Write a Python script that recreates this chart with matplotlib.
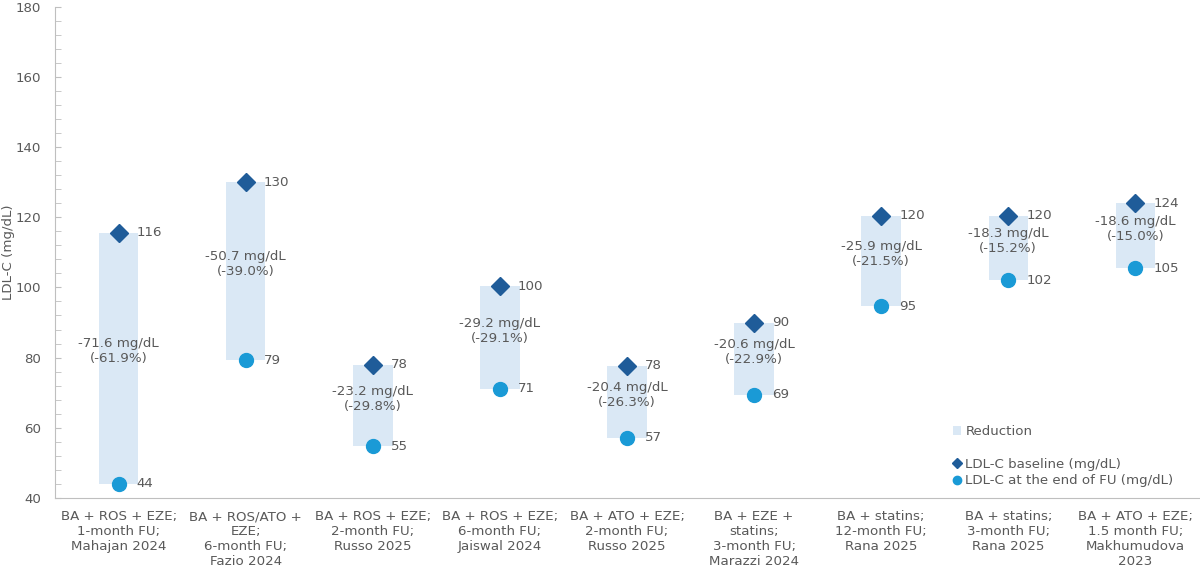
import matplotlib.pyplot as plt
from matplotlib.patches import Patch
from matplotlib.lines import Line2D
from matplotlib.ticker import MultipleLocator

#
# Les données du graphe : une étude par catégorie.
#
etudes = [
    "BA + ROS + EZE;\n1-month FU;\nMahajan 2024",
    "BA + ROS/ATO +\nEZE;\n6-month FU;\nFazio 2024",
    "BA + ROS + EZE;\n2-month FU;\nRusso 2025",
    "BA + ROS + EZE;\n6-month FU;\nJaiswal 2024",
    "BA + ATO + EZE;\n2-month FU;\nRusso 2025",
    "BA + EZE +\nstatins;\n3-month FU;\nMarazzi 2024",
    "BA + statins;\n12-month FU;\nRana 2025",
    "BA + statins;\n3-month FU;\nRana 2025",
    "BA + ATO + EZE;\n1.5 month FU;\nMakhumudova\n2023",
]
baseline = [115.6, 130.0, 77.9, 100.3, 77.6, 90.0, 120.4, 120.4, 124.0]
fin_fu = [44.0, 79.3, 54.7, 71.1, 57.2, 69.4, 94.6, 102.1, 105.4]
reduction = [71.6, 50.7, 23.2, 29.2, 20.4, 20.6, 25.9, 18.3, 18.6]
reduction_pct = [61.9, 39.0, 29.8, 29.1, 26.3, 22.9, 21.5, 15.2, 15.0]

#
# Les couleurs utilisées.
#
GRIS = "#595959"
AXE = "#bfbfbf"
BARRE = "#dae8f5"
LOSANGE = "#1f5c99"
CERCLE = "#1a9ad6"

plt.rcParams["font.family"] = "DejaVu Sans"
plt.rcParams["font.size"] = 9.6

fig = plt.figure(figsize=(12, 5.69), dpi=100)
ax = fig.add_axes([0.046, 0.125, 0.953, 0.863])

x = list(range(len(etudes)))
hauteurs = [b - f for b, f in zip(baseline, fin_fu)]

# Les barres de réduction
ax.bar(x, hauteurs, bottom=fin_fu, width=0.31, color=BARRE, zorder=1)

# Les points de départ et de fin de suivi
ax.plot(x, baseline, linestyle="none", marker="D", markersize=9, color=LOSANGE, zorder=3)
ax.plot(x, fin_fu, linestyle="none", marker="o", markersize=10, color=CERCLE, zorder=3)

# Les étiquettes
for i in x:
    ax.annotate(f"{baseline[i]:.0f}", (i, baseline[i]), xytext=(13, 0), textcoords="offset points",
                va="center", ha="left", color=GRIS)
    ax.annotate(f"{fin_fu[i]:.0f}", (i, fin_fu[i]), xytext=(13, 0), textcoords="offset points",
                va="center", ha="left", color=GRIS)
    milieu = (baseline[i] + fin_fu[i]) / 2
    ax.annotate(f"-{reduction[i]:.1f} mg/dL\n(-{reduction_pct[i]:.1f}%)", (i, milieu),
                xytext=(0, 5), textcoords="offset points",
                ha="center", va="center", color=GRIS, linespacing=1.2, zorder=4)

# Les axes
ax.set_xlim(-0.5, len(etudes) - 0.5)
ax.set_ylim(40, 180)
ax.yaxis.set_major_locator(MultipleLocator(20))
ax.yaxis.set_minor_locator(MultipleLocator(4))
ax.set_xticks(x)
ax.set_xticklabels(etudes, color=GRIS, linespacing=1.2, va="top")
ax.tick_params(axis="x", length=0, pad=9)
ax.tick_params(axis="y", which="both", direction="in", length=4, color=AXE, labelcolor=GRIS, pad=10)
ax.set_ylabel("LDL-C (mg/dL)", color=GRIS)
ax.yaxis.set_label_coords(-0.035, 0.5)

for cote in ["top", "right"]:
    ax.spines[cote].set_visible(False)
for cote in ["left", "bottom"]:
    ax.spines[cote].set_color(AXE)

# La légende
poignees = [
    Patch(facecolor=BARRE, edgecolor="none"),
    Line2D([], [], linestyle="none", marker=None),
    Line2D([], [], linestyle="none", marker="D", markersize=5, color=LOSANGE),
    Line2D([], [], linestyle="none", marker="o", markersize=6, color=CERCLE),
]
noms = ["Reduction", " ", "LDL-C baseline (mg/dL)", "LDL-C at the end of FU (mg/dL)"]
ax.legend(poignees, noms, loc="upper left", bbox_to_anchor=(0.789, 0.264), bbox_transform=fig.transFigure,
          frameon=False, handlelength=0.6, handletextpad=0.3, labelspacing=0.25, labelcolor=GRIS,
          fontsize=9.6, borderpad=0)

fig.savefig("out.png", dpi=100)
